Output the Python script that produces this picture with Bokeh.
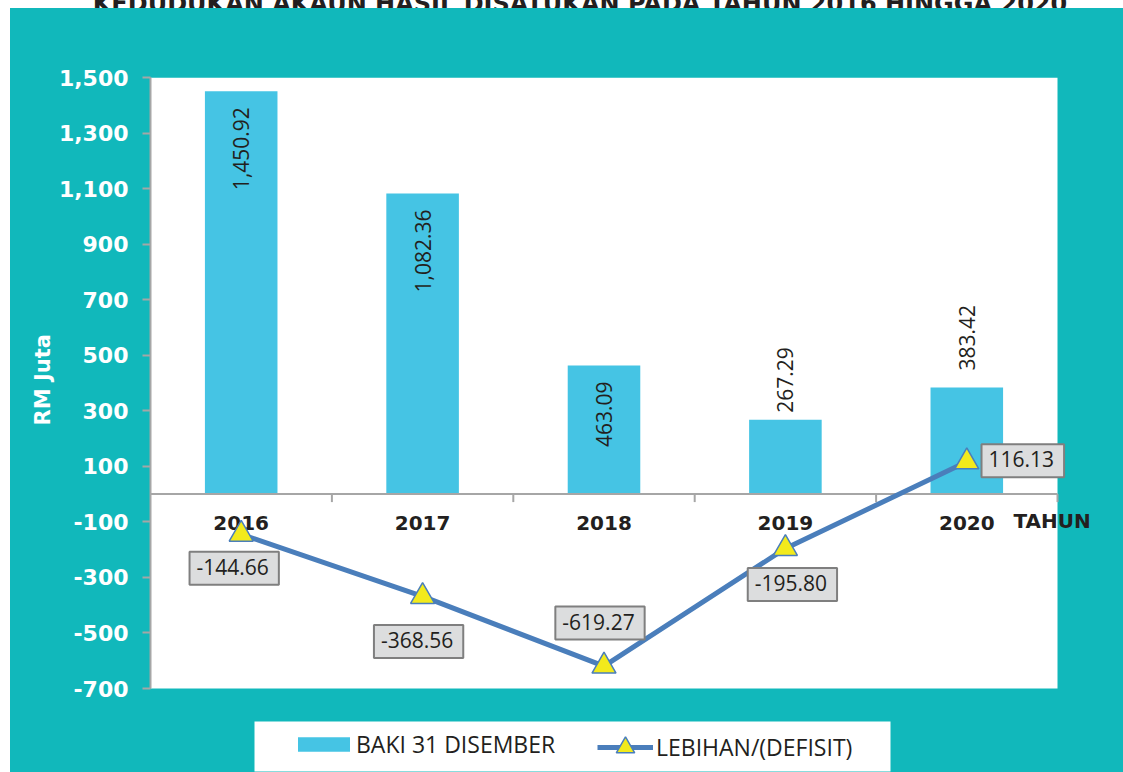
import math
from bokeh.plotting import figure
from bokeh.layouts import row, column
from bokeh.models import (Range1d, FixedTicker, NumeralTickFormatter, Label, Div, Spacer, Title,
                          Legend, LegendItem, BoxAnnotation, ColumnDataSource)
from bokeh.core.properties import value
from bokeh.embed import file_html
from bokeh.resources import INLINE

# ---------------- data ----------------
title = "KEDUDUKAN AKAUN HASIL DISATUKAN PADA TAHUN 2016 HINGGA 2020"
y_title = "RM Juta"
x_title = "TAHUN"
years = ["2016", "2017", "2018", "2019", "2020"]
baki = [1450.92, 1082.36, 463.09, 267.29, 383.42]          # BAKI 31 DISEMBER
lebihan = [-144.66, -368.56, -619.27, -195.80, 116.13]      # LEBIHAN/(DEFISIT)
y_ticks = [-700, -500, -300, -100, 100, 300, 500, 700, 900, 1100, 1300, 1500]
Y_MIN, Y_MAX = -700, 1500

# ---------------- styles / layout ----------------
TEAL = "#11B8BB"
BAR = "#45C4E4"
LINE = "#4A7EBB"
TRI = "#F2EA1C"
AXIS_GRAY = "#A6A6A6"
DARK = "#231F20"
BOLD_FONT = "DejaVu Sans"
TEXT_FONT = "Open Sans"

FIG_W, FIG_H = 1113, 764
BORDER_L, BORDER_T = 140, 69          # frame starts here inside the figure
PLOT_W, PLOT_H = 907, 611             # white plot area size in px
FRAME_W, FRAME_H = FIG_W - BORDER_L, FIG_H - BORDER_T
n = len(years)
px_per_x = PLOT_W / n
px_per_y = PLOT_H / (Y_MAX - Y_MIN)
x_hi = -0.5 + FRAME_W / px_per_x
y_lo = Y_MAX - FRAME_H / px_per_y

# px gap from bar top to rotated label (positive = inside/down, negative = above)
bar_label_gap = [16, 16, 16, -7, -17]
# (dx, dy) screen offsets of the boxed line labels from their points (dy up)
line_label_off = [(-7, -34), (-4, -45), (-4, 43), (7, -36), (56, 1)]

xs = list(range(n))

p = figure(width=FIG_W, height=FIG_H, output_backend="svg", toolbar_location=None,
           x_range=Range1d(-0.5, x_hi), y_range=Range1d(y_lo, Y_MAX),
           x_axis_location=None,
           min_border_left=BORDER_L, min_border_right=0, min_border_top=BORDER_T,
           min_border_bottom=0, margin=0,
           background_fill_color=None, border_fill_color=None, outline_line_color=None,
           styles={"background-color": TEAL})
p.grid.visible = False

# white plot area
p.quad(left=-0.5, right=n - 0.5, bottom=Y_MIN, top=Y_MAX, fill_color="white", line_color=None)

ax = p.yaxis[0]
ax.bounds = (Y_MIN, Y_MAX)
ax.ticker = FixedTicker(ticks=y_ticks)
ax.formatter = NumeralTickFormatter(format="0,0")
ax.major_label_text_color = "white"
ax.major_label_text_font = BOLD_FONT
ax.major_label_text_font_style = "bold"
ax.major_label_text_font_size = "22px"
ax.major_label_standoff = 14
ax.axis_line_color = AXIS_GRAY
ax.axis_line_width = 2
ax.major_tick_line_color = AXIS_GRAY
ax.major_tick_line_width = 2
ax.major_tick_out = 8
ax.major_tick_in = 0
ax.minor_tick_line_color = None

# y axis title (starts 347 px above the bottom of the frame, i.e. centred on the white area)
p.add_layout(Title(text=y_title, align="left", offset=347,
                   text_color="white", text_font=BOLD_FONT, text_font_style="bold",
                   text_font_size="21px", standoff=2), "left")

# bars
bars = p.vbar(x=xs, top=baki, bottom=0, width=0.4, fill_color=BAR, line_color=None)

# zero line + category boundary ticks
p.segment(x0=[-0.5], y0=[0], x1=[n - 0.5], y1=[0], line_color=AXIS_GRAY, line_width=2)
tick_len = 8 / px_per_y
bounds = [i + 0.5 for i in xs]
p.segment(x0=bounds, y0=[0] * n, x1=bounds, y1=[-tick_len] * n,
          line_color=AXIS_GRAY, line_width=2)

# category labels
p.text(x=xs, y=[0] * n, text=years, y_offset=29, text_align="center",
       text_baseline="middle", text_font=value(BOLD_FONT), text_font_style="bold",
       text_font_size="20px", text_color=DARK)
# axis title TAHUN
p.text(x=[n - 0.5], y=[0], text=[x_title], x_offset=-44, y_offset=27, text_align="left",
       text_baseline="middle", text_font=value(BOLD_FONT), text_font_style="bold",
       text_font_size="20px", text_color=DARK)

# bar value labels (rotated)
inside = [i for i in xs if bar_label_gap[i] > 0]
outside = [i for i in xs if bar_label_gap[i] <= 0]
for idx, align in ((inside, "right"), (outside, "left")):
    src = ColumnDataSource(dict(
        x=[xs[i] for i in idx], y=[baki[i] for i in idx],
        t=[f"{baki[i]:,.2f}" for i in idx], off=[bar_label_gap[i] for i in idx]))
    p.text(x="x", y="y", text="t", y_offset="off", source=src, angle=math.pi / 2,
           text_align=align, text_baseline="middle", text_font=value(TEXT_FONT),
           text_font_size="21px", text_color=DARK)

# line + markers
ln = p.line(xs, lebihan, line_color=LINE, line_width=5)
sc = p.scatter(xs, lebihan, marker="triangle", size=24, fill_color=TRI,
               line_color=LINE, line_width=1.5)

# boxed line labels
for i in xs:
    dx, dy = line_label_off[i]
    p.add_layout(Label(x=xs[i], y=lebihan[i], x_offset=dx, y_offset=dy,
                       text=f"{lebihan[i]:,.2f}", text_align="center", text_baseline="middle",
                       text_font=TEXT_FONT, text_font_size="21px", text_color=DARK,
                       background_fill_color="#DCDDDE", border_line_color="#7F7F7F",
                       border_line_width=2, padding=(7, 10, 7, 10)))

# legend white box (screen px from frame bottom-left)
p.add_layout(BoxAnnotation(left=104, right=740, bottom=1, top=51,
                           left_units="screen", right_units="screen",
                           bottom_units="screen", top_units="screen",
                           fill_color="white", fill_alpha=1, line_color=None))

leg1 = Legend(items=[LegendItem(label="BAKI 31 DISEMBER", renderers=[bars])],
              location=(141, 12), glyph_width=65, glyph_height=18, label_standoff=0,
              padding=0, margin=0, spacing=0, background_fill_alpha=0, border_line_color=None,
              label_text_font=TEXT_FONT, label_text_font_size="23px", label_text_color=DARK)
leg2 = Legend(items=[LegendItem(label="LEBIHAN/(DEFISIT)", renderers=[ln, sc])],
              location=(447, 2), glyph_width=56, glyph_height=46, label_standoff=3,
              padding=0, margin=0, spacing=0, background_fill_alpha=0, border_line_color=None,
              label_text_font=TEXT_FONT, label_text_font_size="23px", label_text_color=DARK)
p.add_layout(leg1)
p.add_layout(leg2)

# cropped title strip on top (as in the reference) and white strip on the left
title_div = Div(
    text=(f"<div style=\"white-space:nowrap;text-align:center;width:1140px;margin-top:-16px;"
          f"font-family:'{BOLD_FONT}';font-weight:bold;font-size:24px;line-height:24px;"
          f"color:{DARK};\">{title}</div>"),
    width=FIG_W, height=8, margin=0, styles={"overflow": "hidden"})
layout = row(Spacer(width=10, height=FIG_H + 8, margin=0),
             column(title_div, p, spacing=0, margin=0), spacing=0, margin=0)

open("out.html", "w").write(file_html(layout, INLINE))
